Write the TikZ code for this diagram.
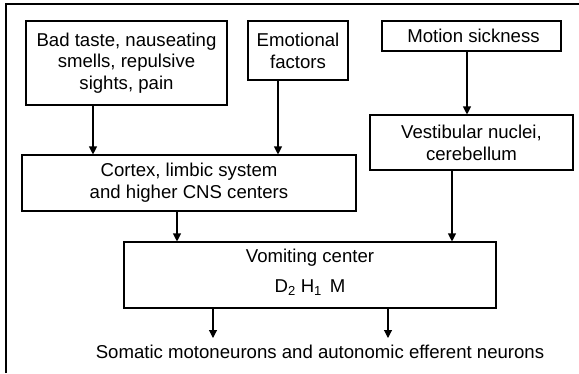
\documentclass[tikz,border=0pt]{standalone}
\usepackage{fontspec}
\setmainfont{Liberation Sans}
\usetikzlibrary{arrows.meta}
\begin{document}
\begin{tikzpicture}[x=1pt,y=-1pt,
  box/.style={draw, line width=1.1pt, inner sep=0pt, align=center,
    font=\fontsize{18.6}{21.7}\selectfont},
  lbl/.style={inner sep=0pt, align=center, font=\fontsize{18.6}{21.7}\selectfont},
  arr/.style={line width=1.1pt, -{Triangle[length=8pt,width=8pt]}}]
\useasboundingbox (0,0) rectangle (579,373);
\draw[line width=2pt] (6,373) -- (6,4) -- (579,4);
\node[box, minimum width=201pt, minimum height=84pt] (b1) at (126.5,63)
  {Bad taste, nauseating\\smells, repulsive\\sights, pain};
\node[box, minimum width=100pt, minimum height=59pt] (b2) at (298,50.5)
  {Emotional\\factors};
\node[box, minimum width=179pt, minimum height=30pt] (b3) at (471.5,36)
  {\hspace{4pt}Motion sickness};
\node[box, minimum width=203pt, minimum height=55pt] (b4) at (471.5,142.5)
  {Vestibular nuclei,\\cerebellum};
\node[box, minimum width=334pt, minimum height=56pt] (b5) at (189,183)
  {Cortex, limbic system\\and higher CNS centers};
\node[box, minimum width=372pt, minimum height=66pt] (b6) at (310,275) {};
\node[lbl] (v1) at (310,258) {Vomiting center};
\node[lbl] (v2) at (310,288) {D\textsubscript{2}\hspace{5pt}H\textsubscript{1}\hspace{8pt}M};
\node[lbl] (out) at (320,352) {Somatic motoneurons and autonomic efferent neurons};
\coordinate (x1) at (93,0);
\coordinate (x2) at (278,0);
\coordinate (x3) at (467,0);
\coordinate (x4) at (452,0);
\coordinate (x5) at (177,0);
\coordinate (x6) at (213,0);
\coordinate (x7) at (388,0);
\coordinate (e) at (0,338);
\draw[arr] (b1.south -| x1) -- (b5.north -| x1);
\draw[arr] (b2.south -| x2) -- (b5.north -| x2);
\draw[arr] (b3.south -| x3) -- (b4.north -| x3);
\draw[arr] (b4.south -| x4) -- (b6.north -| x4);
\draw[arr] (b5.south -| x5) -- (b6.north -| x5);
\draw[arr] (b6.south -| x6) -- (e -| x6);
\draw[arr] (b6.south -| x7) -- (e -| x7);
\end{tikzpicture}
\end{document}
